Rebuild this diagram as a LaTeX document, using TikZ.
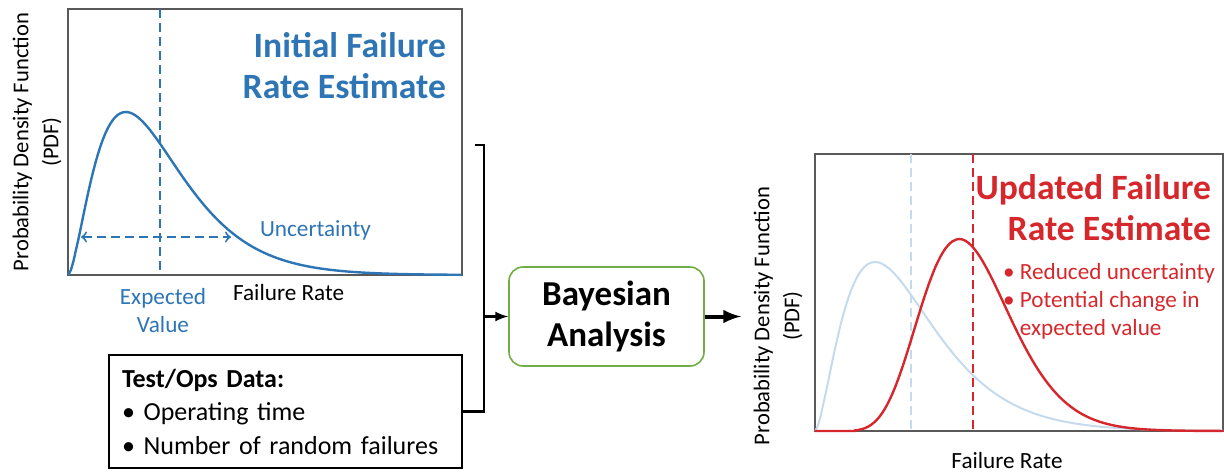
\documentclass[tikz,border=0pt]{standalone}
\usepackage{fontspec}
\setmainfont{Carlito}
\usetikzlibrary{arrows}
\definecolor{pdfblue}{RGB}{46,117,182}
\definecolor{pdflight}{RGB}{197,219,237}
\definecolor{pdfred}{RGB}{214,40,44}
\definecolor{boxgreen}{RGB}{112,173,71}
\definecolor{framegray}{RGB}{89,89,89}
\tikzset{
  frame/.style={draw=framegray,line width=0.7pt},
  vline/.style={line width=1pt,dash pattern=on 4.5pt off 2.5pt},
  link/.style={line width=1.2pt},
  txt/.style={font=\fontsize{11.6}{14}\selectfont},
  title/.style={font=\bfseries\fontsize{17.8}{20.5}\selectfont,align=right,anchor=east},
}

\begin{document}
\begin{tikzpicture}[x=0.5pt,y=-0.5pt]
\useasboundingbox (0,0) rectangle (1224,472);
% prior estimate
\node[frame,inner sep=0,minimum width=197pt,minimum height=133pt] (prior) at (265,142) {};
\draw[pdfblue,vline] (160,9) -- (160,275);
\draw[pdfblue,line width=1.2pt] (68,275) -- plot[domain=0.5:394,samples=160] ({68+\x},{275-163*exp(1.7*ln(\x/58)-(\x-58)/34)});
\draw[pdfblue,vline,<->] (81,237) -- (231,237);
\node[txt,pdfblue,anchor=west] (unc) at (253,230) {Uncertainty};
\node[txt,pdfblue,align=center] (ev) at (163,311) {Expected\\Value};
\node[txt,anchor=west] (fr1) at (226,293) {Failure Rate};
\node[title,pdfblue] (t1) at (453,66) {Initial Failure\\Rate Estimate};
\node[rotate=90,align=center,font=\fontsize{11.3}{15}\selectfont] (yl1) at (37,142) {Probability Density Function\\(PDF)};
% test data
\node[draw,line width=0.8pt,minimum width=176.5pt,minimum height=56.5pt,inner xsep=6.5pt,text width=163.5pt,align=left,font=\fontsize{13}{16.75}\selectfont] (data) at (285.5,411.5) {\textbf{Test/Ops Data:}\\•~Operating time\\•~Number of random failures};
% bayesian step
\node[draw=boxgreen,line width=0.8pt,rounded corners=7pt,minimum width=97.5pt,minimum height=49.5pt,align=center,font=\bfseries\fontsize{17.5}{20.5}\selectfont] (bayes) at (606.5,316.5) {Bayesian\\Analysis};
\coordinate (jtop) at (475,145);
\coordinate (jmid) at (484,316.5);
\coordinate (post) at (741,316.5);
\draw[link] (jtop) -| (jmid) |- (data.east);
\draw[link,-latex] (jmid) -- (bayes.west);
\draw[line width=2pt,-latex] (bayes.east) -- (post);
% updated estimate
\node[frame,inner sep=0,minimum width=204pt,minimum height=138.5pt] (postbox) at (1019,292.5) {};
\draw[pdflight,line width=1pt] (815,431) -- plot[domain=0.5:408,samples=160] ({815+\x},{431-169*exp(1.667*ln(\x/60)-(\x-60)/36)});
\draw[pdflight,vline] (911,154) -- (911,431);
\draw[pdfred,line width=1.2pt] (815,431) -- (855,431) -- plot[domain=40:408,samples=160] ({815+\x},{431-192*exp(10.3*ln(\x/144)-(\x-144)/14)});
\draw[pdfred,vline] (973,154) -- (973,431);
\node[title,pdfred] (t2) at (1218,207.5) {Updated Failure\\Rate Estimate};
\node[txt,pdfred,align=left,anchor=north west] (notes) at (996,256) {•~Reduced uncertainty\\•~Potential change in\\\hphantom{•~}expected value};
\node[txt] (fr2) at (1007,461) {Failure Rate};
\node[rotate=90,align=center,font=\fontsize{11.3}{15}\selectfont] (yl2) at (778,316) {Probability Density Function\\(PDF)};
\end{tikzpicture}
\end{document}
